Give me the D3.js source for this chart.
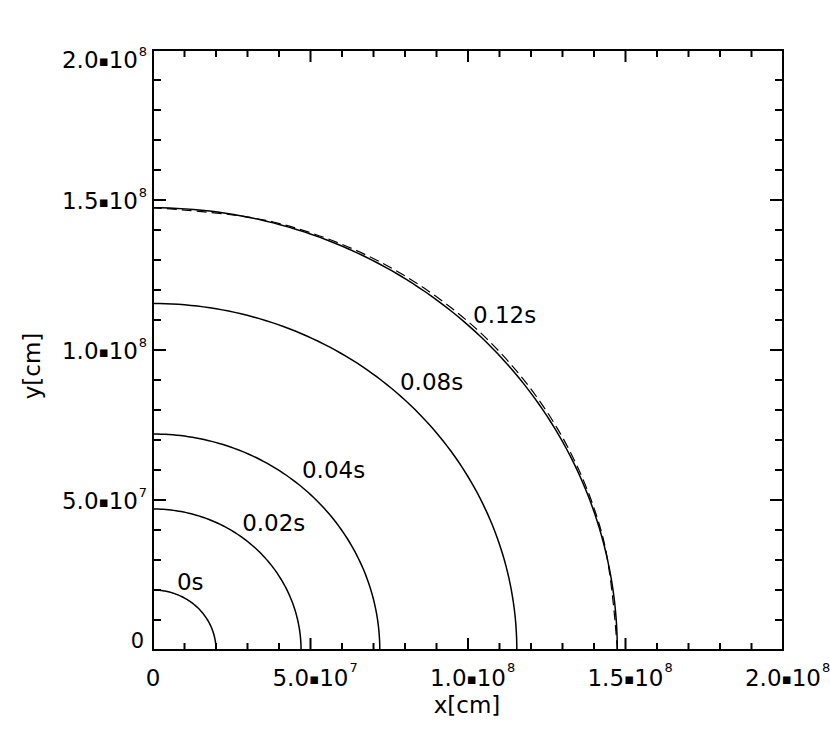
<!DOCTYPE html>
<html>
<head>
<meta charset="utf-8">
<script src="https://cdn.jsdelivr.net/npm/d3@7"></script>
<style>
  html, body { margin: 0; padding: 0; background: #fff; }
  svg { display: block; }
  text { font-family: "DejaVu Sans", sans-serif; fill: #000; }
</style>
</head>
<body>
<svg id="chart" width="830" height="749"></svg>
<script>
// ---- data ----
const times = ["0s", "0.02s", "0.04s", "0.08s", "0.12s"];
const radii = [2.0e7, 4.7e7, 7.2e7, 1.155e8, 1.474e8];
// dashed companion of the 0.12s front (radius read at several angles, degrees)
const dashedAngles = [0, 15, 30, 45, 60, 75, 90];
const dashedRadii = [1.474e8, 1.477e8, 1.481e8, 1.483e8, 1.481e8, 1.477e8, 1.474e8];
// label anchors (data units: x, y of left baseline)
const labelX = [0.76e7, 2.83e7, 4.73e7, 7.84e7, 10.16e7];
const labelY = [2.0e7, 3.97e7, 5.73e7, 8.67e7, 10.9e7];
// ticks
const majorTicks = [0, 5e7, 1e8, 1.5e8, 2e8];
const tickMant = ["0", "5.0", "1.0", "1.5", "2.0"];
const tickExp = ["", "7", "8", "8", "8"];
const minorTicks = d3.range(0, 2.0001e8, 1e7);

const svg = d3.select("#chart");
const x = d3.scaleLinear().domain([0, 2e8]).range([153, 783]);
const y = d3.scaleLinear().domain([0, 2e8]).range([650, 50]);

const L = x.range()[0], R = x.range()[1], T = y.range()[1], B = y.range()[0];

// curves
const line = d3.line().x(d => x(d[0])).y(d => y(d[1]));
const angles = d3.range(0, 90.5, 1);
radii.forEach(r => {
  const pts = angles.map(a => [r * Math.cos(a * Math.PI / 180), r * Math.sin(a * Math.PI / 180)]);
  svg.append("path").attr("d", line(pts)).attr("fill", "none")
    .attr("stroke", "#000").attr("stroke-width", 1.5);
});
const dashedPts = dashedAngles.map((a, i) => [dashedRadii[i] * Math.cos(a * Math.PI / 180), dashedRadii[i] * Math.sin(a * Math.PI / 180)]);
svg.append("path").attr("d", d3.line().x(d => x(d[0])).y(d => y(d[1])).curve(d3.curveCatmullRom)(dashedPts))
  .attr("fill", "none").attr("stroke", "#000").attr("stroke-width", 1.2)
  .attr("stroke-dasharray", "10,5");

// labels
times.forEach((t, i) => {
  svg.append("text").attr("x", x(labelX[i])).attr("y", y(labelY[i]))
    .attr("font-size", 23).text(t);
});

// frame
svg.append("rect").attr("x", L).attr("y", T).attr("width", R - L).attr("height", B - T)
  .attr("fill", "none").attr("stroke", "#000").attr("stroke-width", 2);

// ticks
const isMajor = v => majorTicks.some(m => Math.abs(m - v) < 1);
const g = svg.append("g").attr("stroke", "#000").attr("stroke-width", 2);
minorTicks.forEach(v => {
  const lx = isMajor(v) ? 12 : 7;
  const ly = isMajor(v) ? 13 : 8;
  g.append("line").attr("x1", x(v)).attr("x2", x(v)).attr("y1", B).attr("y2", B - lx);
  g.append("line").attr("x1", x(v)).attr("x2", x(v)).attr("y1", T).attr("y2", T + lx);
  g.append("line").attr("y1", y(v)).attr("y2", y(v)).attr("x1", L).attr("x2", L + ly);
  g.append("line").attr("y1", y(v)).attr("y2", y(v)).attr("x1", R).attr("x2", R - ly);
});

// builds "m•10" base text inside a text element
function fillBase(t, i) {
  if (!tickExp[i]) { t.text(tickMant[i]); return; }
  t.append("tspan").text(tickMant[i]);
  t.append("tspan").attr("font-size", 15).attr("dy", -2).text("\u25AA");
  t.append("tspan").attr("dy", 2).text("10");
}

// x tick labels
majorTicks.forEach((v, i) => {
  const base = svg.append("text").attr("x", x(v)).attr("y", 686)
    .attr("text-anchor", "middle").attr("font-size", 23);
  fillBase(base, i);
  if (tickExp[i]) {
    const w = base.node().getComputedTextLength();
    svg.append("text").attr("x", x(v) + w / 2 + 1).attr("y", 672)
      .attr("font-size", 13).text(tickExp[i]);
  }
});
// y tick labels
majorTicks.forEach((v, i) => {
  const yy = v === 0 ? 648 : (v === 2e8 ? 68 : y(v) + 9);
  if (tickExp[i]) {
    svg.append("text").attr("x", 147).attr("y", yy - 12)
      .attr("text-anchor", "end").attr("font-size", 13).text(tickExp[i]);
    const t = svg.append("text").attr("x", 138).attr("y", yy)
      .attr("text-anchor", "end").attr("font-size", 23);
    fillBase(t, i);
  } else {
    svg.append("text").attr("x", 144).attr("y", yy)
      .attr("text-anchor", "end").attr("font-size", 21).text(tickMant[i]);
  }
});

// axis titles
svg.append("text").attr("x", 467).attr("y", 713).attr("text-anchor", "middle")
  .attr("font-size", 23).text("x[cm]");
svg.append("text").attr("transform", "translate(40,366) rotate(-90)")
  .attr("text-anchor", "middle").attr("font-size", 23).text("y[cm]");
</script>
</body>
</html>
